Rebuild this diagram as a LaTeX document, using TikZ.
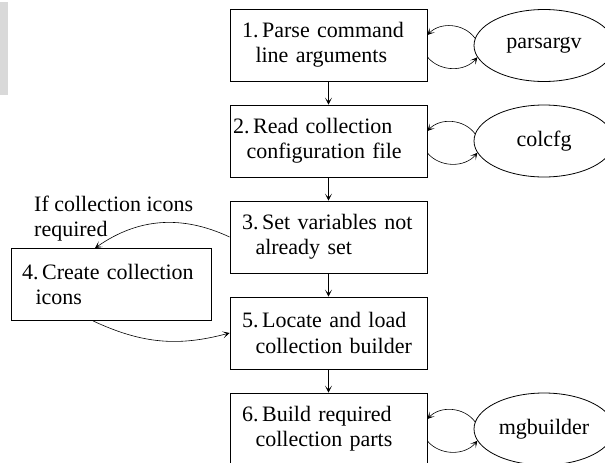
\documentclass[tikz,border=0pt]{standalone}
\usepackage{fontspec}
\setmainfont{Liberation Serif}
\usetikzlibrary{shapes.geometric,arrows.meta}

\newcommand{\stepitem}[3]{#1.\,#2\\\hspace*{13.5pt}#3}

\begin{document}
\begin{tikzpicture}[x=1pt,y=-1pt,
        font=\fontsize{22pt}{25.3pt}\selectfont,
        step box/.style={rectangle,draw,line width=0.8pt,minimum width=197pt,minimum height=72pt,
          inner xsep=12pt,inner ysep=0pt,text width=173pt,align=left},
        prog node/.style={ellipse,draw,line width=0.8pt,minimum width=140pt,minimum height=72pt,inner sep=0pt},
        flow edge/.style={draw,line width=0.6pt,-{Stealth[length=7pt,width=7pt,inset=4pt]}}
      ]
      \clip (0,0) rectangle (605,463);
      \fill[black!15] (0,2) rectangle (8,95);

      % steps
      \node[step box] (s1) at (328.5,45)  {\stepitem{1}{Parse command}{line arguments}};
      \node[step box,inner xsep=3pt,text width=191pt] (s2) at (328.5,141) {\stepitem{2}{Read collection}{configuration file}};
      \node[step box] (s3) at (328.5,237) {\stepitem{3}{Set variables not}{already set}};
      \node[step box,minimum width=200pt,inner xsep=11pt,text width=178pt] (s4) at (111,284.5) {\stepitem{4}{Create collection}{icons}};
      \node[step box] (s5) at (328.5,333) {\stepitem{5}{Locate and load}{collection builder}};
      \node[step box] (s6) at (328.5,429) {\stepitem{6}{Build required}{collection parts}};

      % helper programs
      \node[prog node] (pa) at (544,45.5) {parsargv};
      \node[prog node] (cc) at (544,141)  {colcfg};
      \node[prog node] (mg) at (544,429)  {mgbuilder};

      \node[anchor=north west,inner sep=0pt,align=left] (cond) at (34,196) {If collection icons\\required};

      % main flow
      \path[flow edge]
        (s1) edge (s2)
        (s2) edge (s3)
        (s3) edge (s5)
        (s5) edge (s6);

      % calls out and back
      \draw[flow edge] (pa.174) to[bend right=50] ([yshift=10pt]s1.east);
      \draw[flow edge] ([yshift=-12pt]s1.east) to[bend right=50] (pa.190);
      \draw[flow edge] (cc.174) to[bend right=50] ([yshift=10pt]s2.east);
      \draw[flow edge] ([yshift=-12pt]s2.east) to[bend right=50] (cc.190);
      \draw[flow edge] (mg.174) to[bend right=50] ([yshift=10pt]s6.east);
      \draw[flow edge] ([yshift=-12pt]s6.east) to[bend right=50] (mg.190);

      % optional branch
      \draw[flow edge] (s3.west) to[out=155,in=35] ([xshift=-16pt]s4.north);
      \draw[flow edge] ([xshift=-18pt]s4.south) to[out=-25,in=195] (s5.west);
    \end{tikzpicture}
\end{document}
